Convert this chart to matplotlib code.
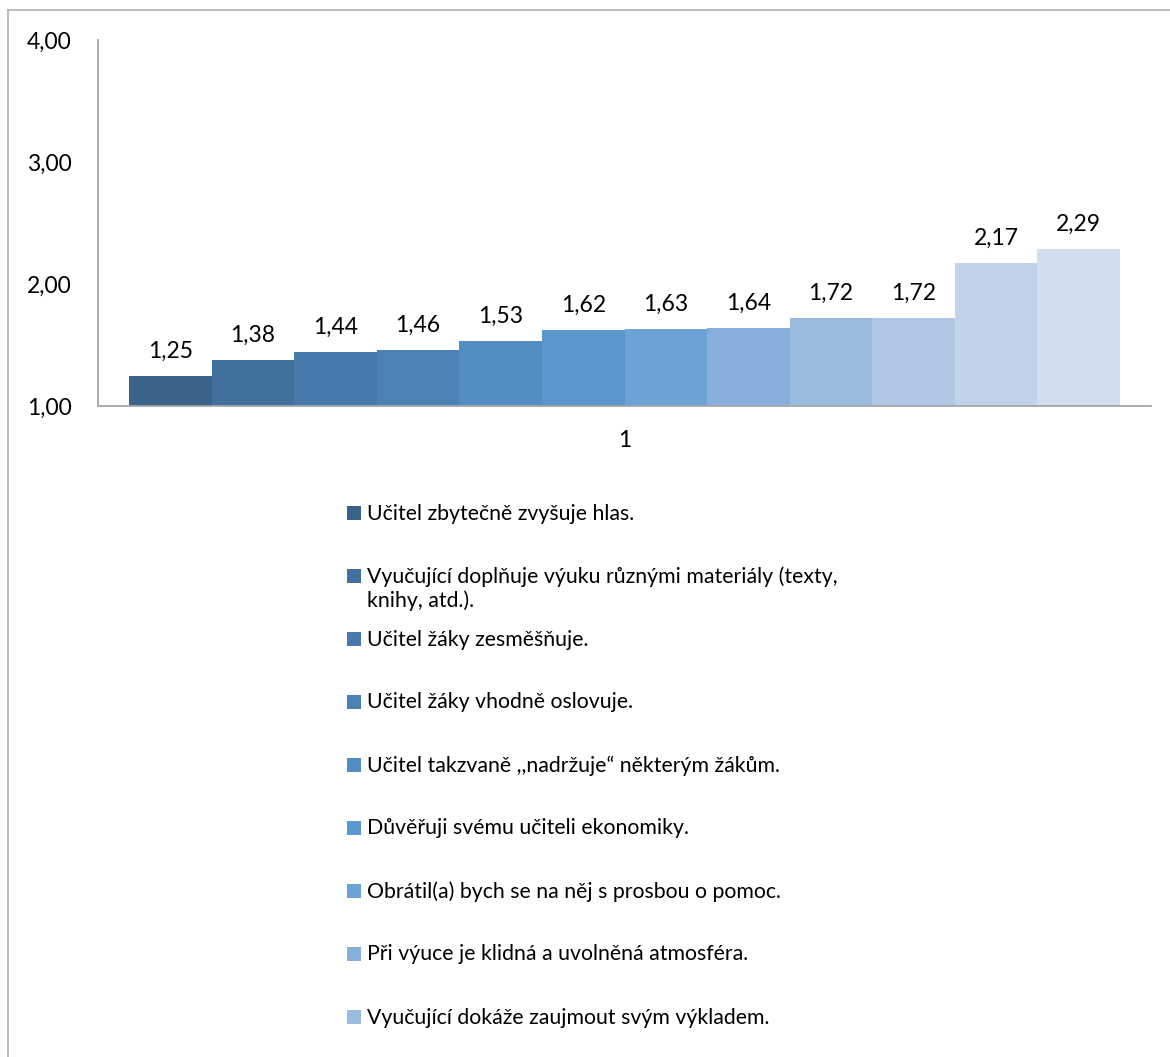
import matplotlib
matplotlib.use("Agg")
import matplotlib.pyplot as plt
from matplotlib.patches import Rectangle
from matplotlib.lines import Line2D

plt.rcParams['font.family'] = ['Lato', 'DejaVu Sans']

values = [1.25, 1.38, 1.44, 1.46, 1.53, 1.62, 1.63, 1.64, 1.72, 1.72, 2.17, 2.29]
value_labels = ["1,25", "1,38", "1,44", "1,46", "1,53", "1,62", "1,63", "1,64", "1,72", "1,72", "2,17", "2,29"]
colors = ["#3A6389", "#41709C", "#4779AB", "#4D82B7", "#528DC4", "#5A97CF",
          "#6CA2D6", "#88AFDB", "#9CBBE0", "#B1C7E5", "#C1D3EA", "#D1DEEE"]
legend_labels = [
    "Učitel zbytečně zvyšuje hlas.",
    "Vyučující doplňuje výuku různými materiály (texty,\nknihy, atd.).",
    "Učitel žáky zesměšňuje.",
    "Učitel žáky vhodně oslovuje.",
    "Učitel takzvaně ,,nadržuje“ některým žákům.",
    "Důvěřuji svému učiteli ekonomiky.",
    "Obrátil(a) bych se na něj s prosbou o pomoc.",
    "Při výuce je klidná a uvolněná atmosféra.",
    "Vyučující dokáže zaujmout svým výkladem.",
]
yticks = [1.0, 2.0, 3.0, 4.0]
ytick_labels = ["1,00", "2,00", "3,00", "4,00"]
category = "1"

W, H = 1170, 1057
fig = plt.figure(figsize=(W / 100, H / 100), dpi=100)
ax = fig.add_axes([98 / W, 1 - 406 / H, (1151 - 98) / W, (406 - 40) / H])

FS_NUM = 16.5
FS_LEG = 15.3
xs = list(range(len(values)))
bars = ax.bar(xs, [v - 1.0 for v in values], bottom=1.0, width=1.0, color=colors, linewidth=0)
for x, v, lab in zip(xs, values, value_labels):
    ax.annotate(lab, (x, v), xytext=(0, 13), textcoords='offset points',
                ha='center', va='baseline', fontsize=FS_NUM, color='black')

ax.set_ylim(1.0, 4.0)
ax.set_xlim(-0.5 - 0.375, len(values) - 0.5 + 0.375)
ax.set_yticks(yticks)
ax.set_yticklabels(ytick_labels)
ax.set_xticks([(len(values) - 1) / 2])
ax.set_xticklabels([category])
ax.tick_params(axis='both', length=0, labelsize=FS_NUM)
ax.tick_params(axis='y', pad=19)
ax.tick_params(axis='x', pad=17)
for s in ['top', 'right']:
    ax.spines[s].set_visible(False)
for s in ['left', 'bottom']:
    ax.spines[s].set_color('#A6A6A6')
    ax.spines[s].set_linewidth(1.3)

# outer chart frame (only top and left visible)
fig.add_artist(Line2D([8 / W, 8 / W], [0, 1 - 10 / H], transform=fig.transFigure, color='#B0B0B0', lw=1.2))
fig.add_artist(Line2D([8 / W, 1], [1 - 10 / H, 1 - 10 / H], transform=fig.transFigure, color='#B0B0B0', lw=1.2))

# legend
y0, dy = 512.5, 63.0
for i, (lab, col) in enumerate(zip(legend_labels, colors)):
    yc = y0 + i * dy
    fig.add_artist(Rectangle((347 / W, 1 - (yc + 7) / H), 14 / W, 14 / H,
                             transform=fig.transFigure, facecolor=col, edgecolor='none'))
    fig.text(367 / W, 1 - (yc - 9) / H, lab, fontsize=FS_LEG, va='top', ha='left',
             linespacing=1.2)

fig.savefig("out.png", dpi=100)
